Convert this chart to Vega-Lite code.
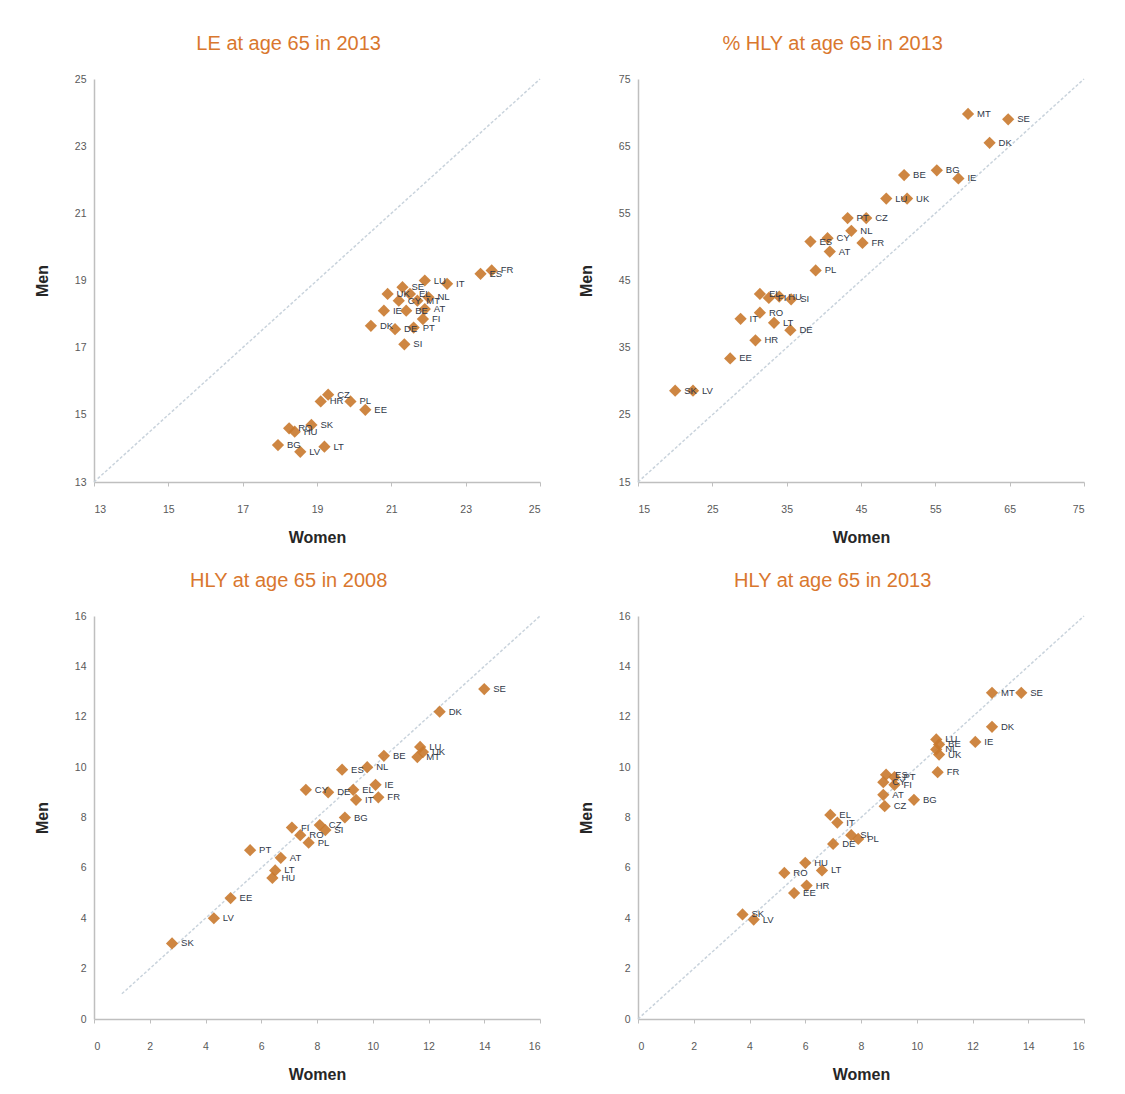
{
  "$schema": "https://vega.github.io/schema/vega-lite/v6.json",
  "background": "white",
  "padding": {"left": 34, "top": 34, "right": 10, "bottom": 5},
  "bounds": "flush",
  "columns": 2,
  "spacing": {"row": 134, "column": 98},
  "config": {
    "view": {"stroke": null},
    "font": "Liberation Sans",
    "axis": {
      "grid": false,
      "domainColor": "#bfbfbf",
      "domainWidth": 1.5,
      "tickColor": "#bfbfbf",
      "tickSize": 4,
      "labelColor": "#595959",
      "labelFontSize": 10.5,
      "titleFontSize": 16,
      "titleFontWeight": "bold",
      "titleColor": "#262626"
    },
    "axisX": {"titlePadding": 15, "labelPadding": 18},
    "axisY": {"titlePadding": 24, "tickSize": 0, "labelPadding": 8},
    "title": {"color": "#D9772E", "fontSize": 20, "fontWeight": "normal", "frame": "bounds", "anchor": "middle", "offset": 20}
  },
  "datasets": {
    "pts": [
      {"panel": "LE13", "country": "FR", "women": 23.7, "men": 19.3},
      {"panel": "LE13", "country": "ES", "women": 23.4, "men": 19.2},
      {"panel": "LE13", "country": "IT", "women": 22.5, "men": 18.9},
      {"panel": "LE13", "country": "LU", "women": 21.9, "men": 19.0},
      {"panel": "LE13", "country": "SE", "women": 21.3, "men": 18.8},
      {"panel": "LE13", "country": "UK", "women": 20.9, "men": 18.6},
      {"panel": "LE13", "country": "IE", "women": 20.8, "men": 18.1},
      {"panel": "LE13", "country": "DK", "women": 20.45, "men": 17.65},
      {"panel": "LE13", "country": "DE", "women": 21.1, "men": 17.55},
      {"panel": "LE13", "country": "NL", "women": 22.0, "men": 18.5},
      {"panel": "LE13", "country": "AT", "women": 21.9, "men": 18.15},
      {"panel": "LE13", "country": "PT", "women": 21.6, "men": 17.6},
      {"panel": "LE13", "country": "FI", "women": 21.85, "men": 17.85},
      {"panel": "LE13", "country": "SI", "women": 21.35, "men": 17.1},
      {"panel": "LE13", "country": "BE", "women": 21.4, "men": 18.1},
      {"panel": "LE13", "country": "CY", "women": 21.2, "men": 18.4},
      {"panel": "LE13", "country": "EL", "women": 21.5, "men": 18.6},
      {"panel": "LE13", "country": "MT", "women": 21.7, "men": 18.4},
      {"panel": "LE13", "country": "CZ", "women": 19.3, "men": 15.6},
      {"panel": "LE13", "country": "HR", "women": 19.1, "men": 15.4},
      {"panel": "LE13", "country": "PL", "women": 19.9, "men": 15.4},
      {"panel": "LE13", "country": "EE", "women": 20.3, "men": 15.15},
      {"panel": "LE13", "country": "RO", "women": 18.25, "men": 14.6},
      {"panel": "LE13", "country": "HU", "women": 18.4, "men": 14.5},
      {"panel": "LE13", "country": "SK", "women": 18.85, "men": 14.7},
      {"panel": "LE13", "country": "BG", "women": 17.95, "men": 14.1},
      {"panel": "LE13", "country": "LV", "women": 18.55, "men": 13.9},
      {"panel": "LE13", "country": "LT", "women": 19.2, "men": 14.05},

      {"panel": "PCT13", "country": "MT", "women": 59.4, "men": 69.8},
      {"panel": "PCT13", "country": "SE", "women": 64.8, "men": 69.0},
      {"panel": "PCT13", "country": "DK", "women": 62.3, "men": 65.5},
      {"panel": "PCT13", "country": "BG", "women": 55.2, "men": 61.4},
      {"panel": "PCT13", "country": "IE", "women": 58.1, "men": 60.2},
      {"panel": "PCT13", "country": "BE", "women": 50.8, "men": 60.7},
      {"panel": "PCT13", "country": "LU", "women": 48.4, "men": 57.2},
      {"panel": "PCT13", "country": "UK", "women": 51.2, "men": 57.2},
      {"panel": "PCT13", "country": "PT", "women": 43.2, "men": 54.3},
      {"panel": "PCT13", "country": "CZ", "women": 45.7, "men": 54.3},
      {"panel": "PCT13", "country": "NL", "women": 43.7, "men": 52.4},
      {"panel": "PCT13", "country": "FR", "women": 45.2, "men": 50.6},
      {"panel": "PCT13", "country": "CY", "women": 40.5, "men": 51.3},
      {"panel": "PCT13", "country": "ES", "women": 38.2, "men": 50.8},
      {"panel": "PCT13", "country": "AT", "women": 40.8, "men": 49.3},
      {"panel": "PCT13", "country": "PL", "women": 38.9, "men": 46.5},
      {"panel": "PCT13", "country": "EL", "women": 31.4, "men": 43.0},
      {"panel": "PCT13", "country": "FI", "women": 32.6, "men": 42.4},
      {"panel": "PCT13", "country": "HU", "women": 34.0, "men": 42.6},
      {"panel": "PCT13", "country": "SI", "women": 35.6, "men": 42.2},
      {"panel": "PCT13", "country": "IT", "women": 28.8, "men": 39.3},
      {"panel": "PCT13", "country": "RO", "women": 31.4, "men": 40.2},
      {"panel": "PCT13", "country": "LT", "women": 33.3, "men": 38.7},
      {"panel": "PCT13", "country": "DE", "women": 35.5, "men": 37.6},
      {"panel": "PCT13", "country": "HR", "women": 30.8, "men": 36.1},
      {"panel": "PCT13", "country": "EE", "women": 27.4, "men": 33.4},
      {"panel": "PCT13", "country": "SK", "women": 20.0, "men": 28.6},
      {"panel": "PCT13", "country": "LV", "women": 22.4, "men": 28.6},

      {"panel": "HLY08", "country": "SE", "women": 14.0, "men": 13.1},
      {"panel": "HLY08", "country": "DK", "women": 12.4, "men": 12.2},
      {"panel": "HLY08", "country": "LU", "women": 11.7, "men": 10.8},
      {"panel": "HLY08", "country": "UK", "women": 11.8, "men": 10.6},
      {"panel": "HLY08", "country": "MT", "women": 11.6, "men": 10.4},
      {"panel": "HLY08", "country": "BE", "women": 10.4, "men": 10.45},
      {"panel": "HLY08", "country": "NL", "women": 9.8, "men": 10.0},
      {"panel": "HLY08", "country": "ES", "women": 8.9, "men": 9.9},
      {"panel": "HLY08", "country": "CY", "women": 7.6, "men": 9.1},
      {"panel": "HLY08", "country": "DE", "women": 8.4, "men": 9.0},
      {"panel": "HLY08", "country": "IE", "women": 10.1, "men": 9.3},
      {"panel": "HLY08", "country": "FR", "women": 10.2, "men": 8.8},
      {"panel": "HLY08", "country": "IT", "women": 9.4, "men": 8.7},
      {"panel": "HLY08", "country": "EL", "women": 9.3, "men": 9.1},
      {"panel": "HLY08", "country": "BG", "women": 9.0, "men": 8.0},
      {"panel": "HLY08", "country": "CZ", "women": 8.1, "men": 7.7},
      {"panel": "HLY08", "country": "FI", "women": 7.1, "men": 7.6},
      {"panel": "HLY08", "country": "RO", "women": 7.4, "men": 7.3},
      {"panel": "HLY08", "country": "PL", "women": 7.7, "men": 7.0},
      {"panel": "HLY08", "country": "SI", "women": 8.3, "men": 7.5},
      {"panel": "HLY08", "country": "AT", "women": 6.7, "men": 6.4},
      {"panel": "HLY08", "country": "LT", "women": 6.5, "men": 5.9},
      {"panel": "HLY08", "country": "HU", "women": 6.4, "men": 5.6},
      {"panel": "HLY08", "country": "PT", "women": 5.6, "men": 6.7},
      {"panel": "HLY08", "country": "EE", "women": 4.9, "men": 4.8},
      {"panel": "HLY08", "country": "LV", "women": 4.3, "men": 4.0},
      {"panel": "HLY08", "country": "SK", "women": 2.8, "men": 3.0},

      {"panel": "HLY13", "country": "MT", "women": 12.7, "men": 12.95},
      {"panel": "HLY13", "country": "SE", "women": 13.75, "men": 12.95},
      {"panel": "HLY13", "country": "DK", "women": 12.7, "men": 11.6},
      {"panel": "HLY13", "country": "IE", "women": 12.1, "men": 11.0},
      {"panel": "HLY13", "country": "LU", "women": 10.7, "men": 11.1},
      {"panel": "HLY13", "country": "BE", "women": 10.8, "men": 10.9},
      {"panel": "HLY13", "country": "NL", "women": 10.7, "men": 10.7},
      {"panel": "HLY13", "country": "UK", "women": 10.8, "men": 10.5},
      {"panel": "HLY13", "country": "FR", "women": 10.75, "men": 9.8},
      {"panel": "HLY13", "country": "ES", "women": 8.9, "men": 9.7},
      {"panel": "HLY13", "country": "PT", "women": 9.2, "men": 9.6},
      {"panel": "HLY13", "country": "CY", "women": 8.8, "men": 9.4},
      {"panel": "HLY13", "country": "FI", "women": 9.2, "men": 9.3},
      {"panel": "HLY13", "country": "AT", "women": 8.8, "men": 8.9},
      {"panel": "HLY13", "country": "CZ", "women": 8.85, "men": 8.45},
      {"panel": "HLY13", "country": "BG", "women": 9.9, "men": 8.7},
      {"panel": "HLY13", "country": "EL", "women": 6.9, "men": 8.1},
      {"panel": "HLY13", "country": "IT", "women": 7.15, "men": 7.8},
      {"panel": "HLY13", "country": "SI", "women": 7.65, "men": 7.3},
      {"panel": "HLY13", "country": "PL", "women": 7.9, "men": 7.15},
      {"panel": "HLY13", "country": "DE", "women": 7.0, "men": 6.95},
      {"panel": "HLY13", "country": "HU", "women": 6.0, "men": 6.2},
      {"panel": "HLY13", "country": "RO", "women": 5.25, "men": 5.8},
      {"panel": "HLY13", "country": "LT", "women": 6.6, "men": 5.9},
      {"panel": "HLY13", "country": "HR", "women": 6.05, "men": 5.3},
      {"panel": "HLY13", "country": "EE", "women": 5.6, "men": 5.0},
      {"panel": "HLY13", "country": "SK", "women": 3.75, "men": 4.15},
      {"panel": "HLY13", "country": "LV", "women": 4.15, "men": 3.95}
    ],
    "diag": [
      {"panel": "LE13", "women": 13, "men": 13},
      {"panel": "LE13", "women": 25, "men": 25},
      {"panel": "PCT13", "women": 15, "men": 15},
      {"panel": "PCT13", "women": 75, "men": 75},
      {"panel": "HLY08", "women": 1, "men": 1},
      {"panel": "HLY08", "women": 16, "men": 16},
      {"panel": "HLY13", "women": 0, "men": 0},
      {"panel": "HLY13", "women": 16, "men": 16}
    ]
  },
  "concat": [
    {
      "width": 446, "height": 403,
      "title": {"text": "LE at age 65 in 2013"},
      "encoding": {
        "x": {"field": "women", "type": "quantitative", "title": "Women", "scale": {"domain": [13, 25], "nice": false, "zero": false}, "axis": {"values": [13, 15, 17, 19, 21, 23, 25]}},
        "y": {"field": "men", "type": "quantitative", "title": "Men", "scale": {"domain": [13, 25], "nice": false, "zero": false}, "axis": {"values": [13, 15, 17, 19, 21, 23, 25]}}
      },
      "layer": [
        {"data": {"name": "diag"}, "transform": [{"filter": "datum.panel === 'LE13'"}], "mark": {"type": "line", "color": "#c9d3dc", "strokeWidth": 1.5, "strokeDash": [3, 2]}},
        {"data": {"name": "pts"}, "transform": [{"filter": "datum.panel === 'LE13'"}], "mark": {"type": "point", "shape": "diamond", "filled": true, "size": 150, "color": "#C9792E", "opacity": 0.9}},
        {"data": {"name": "pts"}, "transform": [{"filter": "datum.panel === 'LE13'"}], "mark": {"type": "text", "align": "left", "baseline": "middle", "dx": 9, "fontSize": 9.5, "color": "#303848"}, "encoding": {"text": {"field": "country"}}}
      ]
    },
    {
      "width": 446, "height": 403,
      "title": {"text": "% HLY at age 65 in 2013"},
      "encoding": {
        "x": {"field": "women", "type": "quantitative", "title": "Women", "scale": {"domain": [15, 75], "nice": false, "zero": false}, "axis": {"values": [15, 25, 35, 45, 55, 65, 75]}},
        "y": {"field": "men", "type": "quantitative", "title": "Men", "scale": {"domain": [15, 75], "nice": false, "zero": false}, "axis": {"values": [15, 25, 35, 45, 55, 65, 75]}}
      },
      "layer": [
        {"data": {"name": "diag"}, "transform": [{"filter": "datum.panel === 'PCT13'"}], "mark": {"type": "line", "color": "#c9d3dc", "strokeWidth": 1.5, "strokeDash": [3, 2]}},
        {"data": {"name": "pts"}, "transform": [{"filter": "datum.panel === 'PCT13'"}], "mark": {"type": "point", "shape": "diamond", "filled": true, "size": 150, "color": "#C9792E", "opacity": 0.9}},
        {"data": {"name": "pts"}, "transform": [{"filter": "datum.panel === 'PCT13'"}], "mark": {"type": "text", "align": "left", "baseline": "middle", "dx": 9, "fontSize": 9.5, "color": "#303848"}, "encoding": {"text": {"field": "country"}}}
      ]
    },
    {
      "width": 446, "height": 403,
      "title": {"text": "HLY at age 65 in 2008"},
      "encoding": {
        "x": {"field": "women", "type": "quantitative", "title": "Women", "scale": {"domain": [0, 16], "nice": false}, "axis": {"values": [0, 2, 4, 6, 8, 10, 12, 14, 16]}},
        "y": {"field": "men", "type": "quantitative", "title": "Men", "scale": {"domain": [0, 16], "nice": false}, "axis": {"values": [0, 2, 4, 6, 8, 10, 12, 14, 16]}}
      },
      "layer": [
        {"data": {"name": "diag"}, "transform": [{"filter": "datum.panel === 'HLY08'"}], "mark": {"type": "line", "color": "#c9d3dc", "strokeWidth": 1.5, "strokeDash": [3, 2]}},
        {"data": {"name": "pts"}, "transform": [{"filter": "datum.panel === 'HLY08'"}], "mark": {"type": "point", "shape": "diamond", "filled": true, "size": 150, "color": "#C9792E", "opacity": 0.9}},
        {"data": {"name": "pts"}, "transform": [{"filter": "datum.panel === 'HLY08'"}], "mark": {"type": "text", "align": "left", "baseline": "middle", "dx": 9, "fontSize": 9.5, "color": "#303848"}, "encoding": {"text": {"field": "country"}}}
      ]
    },
    {
      "width": 446, "height": 403,
      "title": {"text": "HLY at age 65 in 2013"},
      "encoding": {
        "x": {"field": "women", "type": "quantitative", "title": "Women", "scale": {"domain": [0, 16], "nice": false}, "axis": {"values": [0, 2, 4, 6, 8, 10, 12, 14, 16]}},
        "y": {"field": "men", "type": "quantitative", "title": "Men", "scale": {"domain": [0, 16], "nice": false}, "axis": {"values": [0, 2, 4, 6, 8, 10, 12, 14, 16]}}
      },
      "layer": [
        {"data": {"name": "diag"}, "transform": [{"filter": "datum.panel === 'HLY13'"}], "mark": {"type": "line", "color": "#c9d3dc", "strokeWidth": 1.5, "strokeDash": [3, 2]}},
        {"data": {"name": "pts"}, "transform": [{"filter": "datum.panel === 'HLY13'"}], "mark": {"type": "point", "shape": "diamond", "filled": true, "size": 150, "color": "#C9792E", "opacity": 0.9}},
        {"data": {"name": "pts"}, "transform": [{"filter": "datum.panel === 'HLY13'"}], "mark": {"type": "text", "align": "left", "baseline": "middle", "dx": 9, "fontSize": 9.5, "color": "#303848"}, "encoding": {"text": {"field": "country"}}}
      ]
    }
  ]
}
